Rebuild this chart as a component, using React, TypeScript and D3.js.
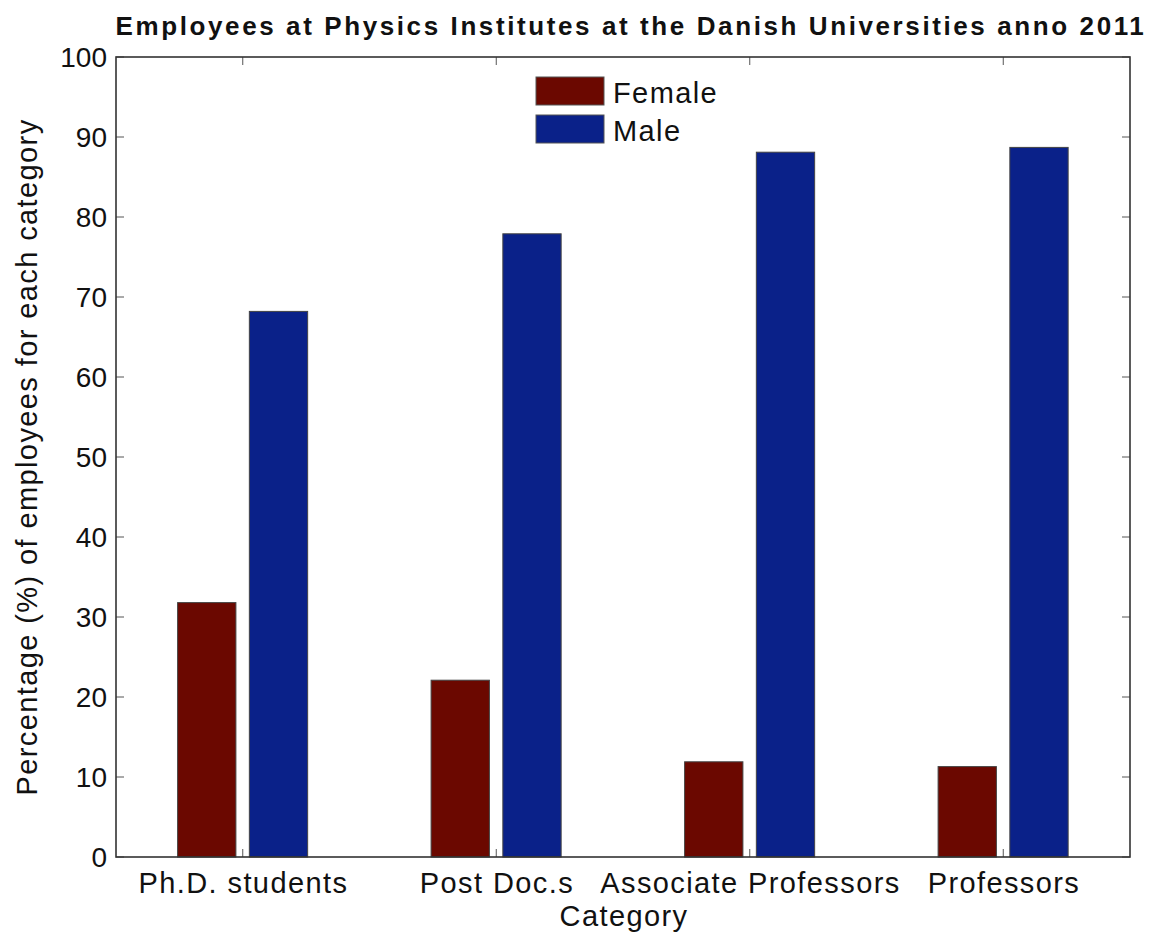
import React from 'react';
import * as d3 from 'd3';

// chart data
const categories = ['Ph.D. students', 'Post Doc.s', 'Associate Professors', 'Professors'];
const femaleValues = [31.8, 22.1, 11.9, 11.3];
const maleValues = [68.2, 77.9, 88.1, 88.7];
const seriesNames = ['Female', 'Male'];
const seriesColors = ['#6b0800', '#0a2189'];
const yTicks = [0, 10, 20, 30, 40, 50, 60, 70, 80, 90, 100];

const W = 1155;
const H = 934;
const margin = { left: 116, right: 25, top: 57, bottom: 77 };
const font = '"Liberation Sans", Arial, Helvetica, sans-serif';
const LS = 1.4; // the original text is a bit wider than Arial

export default function App() {
	const plotW = W - margin.left - margin.right;
	const plotH = H - margin.top - margin.bottom;

	const xScale = d3.scaleLinear().domain([0.5, categories.length + 0.5]).range([0, plotW]);
	const yScale = d3.scaleLinear().domain([0, 100]).range([plotH, 0]);

	const series = [femaleValues, maleValues];
	const barW = 0.23; // in category units
	const offsets = [-0.142, 0.141];
	const tickLen = 8;

	return (
		<svg width={W} height={H} style={{ display: 'block', position: 'absolute', left: 0, top: 0 }} fontFamily={font}>
			<rect width={W} height={H} fill="#fff" />
			<text x={631} y={35} textAnchor="middle" fontSize={26} fontWeight="bold" fill="#111" letterSpacing={2.6}>
				Employees at Physics Institutes at the Danish Universities anno 2011
			</text>
			<g transform={`translate(${margin.left},${margin.top})`}>
				{/* bars */}
				{series.map((vals, s) =>
					vals.map((v, i) => {
						const cx = xScale(i + 1 + offsets[s]);
						const w = xScale(barW) - xScale(0);
						return (
							<rect
								key={`${s}-${i}`}
								x={cx - w / 2}
								y={yScale(v)}
								width={w}
								height={yScale(0) - yScale(v)}
								fill={seriesColors[s]}
								stroke="#444"
								strokeWidth={1}
							/>
						);
					})
				)}
				{/* y ticks */}
				{yTicks.map((t) => (
					<g key={t}>
						<line x1={0} x2={tickLen} y1={yScale(t)} y2={yScale(t)} stroke="#555" strokeWidth={1} />
						<line x1={plotW} x2={plotW - tickLen} y1={yScale(t)} y2={yScale(t)} stroke="#555" strokeWidth={1} />
						<text x={-9} y={yScale(t)} dy="0.36em" textAnchor="end" fontSize={28} fill="#111">
							{t}
						</text>
					</g>
				))}
				{/* x ticks */}
				{categories.map((c, i) => (
					<g key={c}>
						<line x1={xScale(i + 1)} x2={xScale(i + 1)} y1={plotH} y2={plotH - tickLen} stroke="#555" strokeWidth={1} />
						<line x1={xScale(i + 1)} x2={xScale(i + 1)} y1={0} y2={tickLen} stroke="#555" strokeWidth={1} />
						<text x={xScale(i + 1) + LS / 2} y={plotH + 36} textAnchor="middle" fontSize={29} fill="#111" letterSpacing={LS}>
							{c}
						</text>
					</g>
				))}
				<rect x={0} y={0} width={plotW} height={plotH} fill="none" stroke="#333" strokeWidth={1.6} />
				{/* legend */}
				{seriesNames.map((n, s) => (
					<g key={n} transform={`translate(${420},${20 + s * 38})`}>
						<rect x={0} y={0} width={68} height={28} fill={seriesColors[s]} stroke="#555" strokeWidth={1} />
						<text x={77} y={26} fontSize={29} fill="#111" letterSpacing={LS}>
							{n}
						</text>
					</g>
				))}
			</g>
			<text x={margin.left + plotW / 2 + 1} y={926} textAnchor="middle" fontSize={29} fill="#111" letterSpacing={LS}>
				Category
			</text>
			<text
				transform={`translate(37,${margin.top + plotH / 2}) rotate(-90)`}
				textAnchor="middle"
				fontSize={29}
				fill="#111"
				letterSpacing={LS}
			>
				Percentage (%) of employees for each category
			</text>
		</svg>
	);
}
